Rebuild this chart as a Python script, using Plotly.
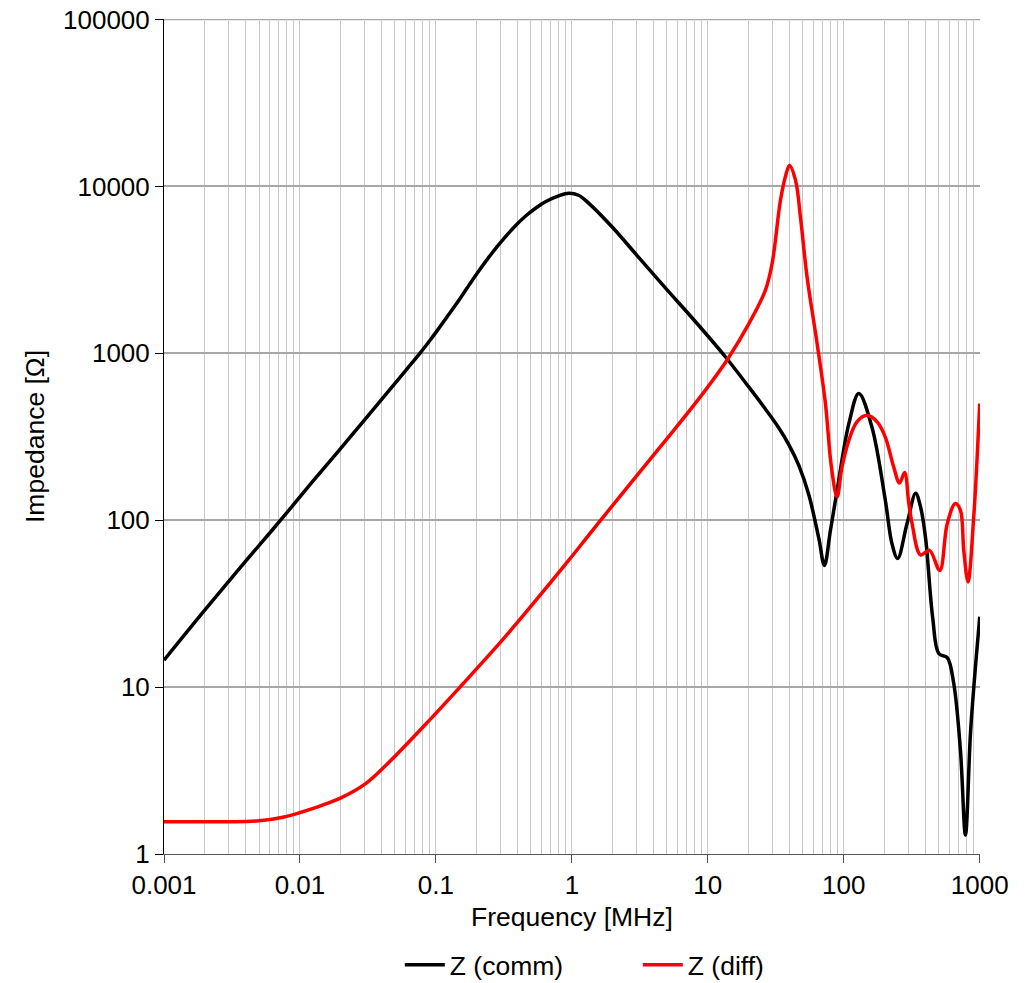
import plotly.graph_objects as go

# ---- data ----
comm_freq = [0.001, 0.002, 0.004, 0.0072, 0.0125, 0.0194, 0.03, 0.0535, 0.065, 0.077,
             0.09, 0.1, 0.12, 0.148, 0.17, 0.2, 0.24, 0.29, 0.38, 0.457, 0.55, 0.644,
             0.8, 0.95, 1.12, 1.34, 1.98, 3.02, 4.89, 8.12, 13.5, 20, 26.5, 33.3, 39.5,
             46.7, 55.3, 65.5, 72, 79.8, 89.3, 109, 129, 161, 202, 226, 249, 292, 338,
             367, 399, 451, 500, 577, 644, 721, 785, 855, 930, 1000]
comm_z = [14.5, 29, 57, 100, 172, 262, 401, 706, 855, 1010,
          1190, 1335, 1640, 2085, 2470, 3000, 3680, 4480, 5750, 6650, 7480, 8120,
          8780, 9100, 8850, 7890, 5710, 3850, 2455, 1545, 950, 629, 464, 357, 283,
          213, 142, 78, 53.6, 87, 151, 379, 575, 362, 132, 72.6, 59, 95.5, 145,
          120, 79, 26, 15.9, 15, 10.5, 4.2, 1.3, 5.3, 13.2, 26.4]

diff_freq = [0.001, 0.002, 0.003, 0.005, 0.0075, 0.01, 0.02, 0.0304, 0.0452, 0.089,
             0.157, 0.292, 0.485, 0.956, 1.34, 1.63, 2.16, 4.89, 8.6, 13.9, 20, 26.5,
             29.7, 34.2, 37.4, 39.9, 44.2, 48, 53.7, 63.6, 73.3, 81, 89.3, 97, 109, 125,
             148, 176, 202, 233, 257, 280, 301, 318, 367, 427, 508, 577, 662, 721, 763,
             820, 903, 955, 1000]
diff_z = [1.56, 1.56, 1.56, 1.58, 1.66, 1.77, 2.17, 2.64, 3.55, 6.3,
          10.4, 18.2, 29.6, 58, 82, 100, 133, 301, 535, 916, 1500, 2385,
          3443, 8240, 11640, 13360, 10860, 6550, 2866, 1150, 500, 210, 138, 208, 301, 388,
          425, 388, 315, 208, 167, 193, 126, 95.5, 62, 66, 50, 95.5, 126, 115, 66,
          42.7, 104, 229, 500]

x_major = [0.001, 0.01, 0.1, 1, 10, 100, 1000]
x_major_text = ["0.001", "0.01", "0.1", "1", "10", "100", "1000"]
y_major = [1, 10, 100, 1000, 10000, 100000]
y_major_text = ["1", "10", "100", "1000", "10000", "100000"]

x_minor = [m * d for d in x_major[:-1] for m in range(2, 10)]

FONT = "Liberation Sans, Arial, sans-serif"

fig = go.Figure()
fig.add_trace(go.Scatter(x=comm_freq, y=comm_z, mode="lines", name="Z (comm)",
                         line=dict(color="#000000", width=3.5, shape="spline", smoothing=1.0)))
fig.add_trace(go.Scatter(x=diff_freq, y=diff_z, mode="lines", name="Z (diff)",
                         line=dict(color="#ff0000", width=3.5, shape="spline", smoothing=1.0)))

fig.update_layout(
    width=1033, height=983,
    margin=dict(l=164, r=53, t=19, b=129, autoexpand=False),
    plot_bgcolor="white", paper_bgcolor="white",
    font=dict(family=FONT, size=26, color="#000000"),
    showlegend=True,
    legend=dict(orientation="h", x=0.289, xanchor="left", y=-0.133, yanchor="middle",
                font=dict(size=26.5), bgcolor="rgba(0,0,0,0)", entrywidth=183,
                itemwidth=40),
)
# top gridline (plotly omits the grid line that sits on the plot's upper edge)
fig.add_shape(type="line", xref="paper", x0=0, x1=1, yref="y",
              y0=y_major[-1], y1=y_major[-1], line=dict(color="#a6a6a6", width=1.5),
              layer="below")
fig.update_xaxes(
    type="log", range=[-3, 3.002],
    tickvals=x_major, ticktext=x_major_text,
    ticks="outside", ticklen=8, tickcolor="#555555", tickwidth=1,
    showline=True, linecolor="#555555", linewidth=1,
    showgrid=True, gridcolor="#c8c8c8", gridwidth=1,
    minor=dict(tickvals=x_minor, showgrid=True, gridcolor="#c8c8c8", gridwidth=1, ticks=""),
    zeroline=False, ticklabeloverflow="allow",
    title=dict(text="Frequency [MHz]", standoff=8, font=dict(size=26.5)),
    tickfont=dict(size=26),
)
fig.update_yaxes(
    type="log", range=[0, 5.003],
    tickvals=y_major, ticktext=y_major_text,
    ticks="outside", ticklen=8, tickcolor="#000000", tickwidth=1,
    showline=True, linecolor="#000000", linewidth=1,
    showgrid=True, gridcolor="#a6a6a6", gridwidth=1.5,
    zeroline=False, ticklabeloverflow="allow",
    title=dict(text="Impedance [Ω]", standoff=10, font=dict(size=26.5)),
    tickfont=dict(size=26),
)

# remove the default 8px page margin so the figure fills the window exactly
fig.write_html("out.html", post_script="document.body.style.margin='0';",
               config={"displayModeBar": False})
